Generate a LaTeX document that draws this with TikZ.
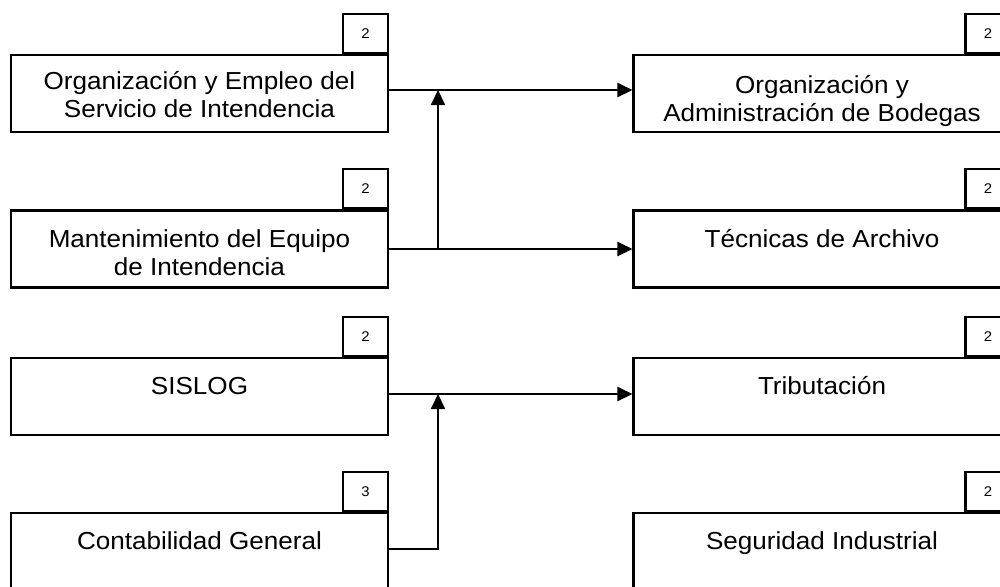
\documentclass[tikz,border=0pt]{standalone}
\usepackage{fontspec}
\setmainfont{Liberation Sans}[FakeStretch=1.06]
\usetikzlibrary{arrows.meta, positioning}
\tikzset{
  course/.style={draw, line width=1.2pt, minimum width=7.54cm, minimum height=1.54cm, inner sep=0pt},
  credits/.style={draw, line width=1.2pt, minimum width=0.9cm, minimum height=0.78cm, inner sep=0pt, font=\fontsize{8}{9}\selectfont},
  title/.style={anchor=base, align=center, inner sep=0pt, font=\fontsize{14}{16}\selectfont},
  link/.style={line width=1.2pt, -{Triangle[length=0.3cm, width=0.28cm]}}
}
\begin{document}
\begin{tikzpicture}[x=0.02cm, y=-0.02cm]
    \useasboundingbox (0,0) rectangle (1000,586);
    % left column
    \node [course] (org) at (199.5,93.5) {};
    \node [credits, above left=0pt and 0pt of org.north east] (orgN) {2};
    \node [title] (orgT) at ([yshift=-1.27cm]org.north) {Organización y Empleo del\\Servicio de Intendencia};
    \node [course] (man) at (199.5,249) {};
    \node [credits, above left=0pt and 0pt of man.north east] (manN) {2};
    \node [title] (manT) at ([yshift=-1.32cm]man.north) {Mantenimiento del Equipo\\de Intendencia};
    \node [course] (sis) at (199.5,396.5) {};
    \node [credits, above left=0pt and 0pt of sis.north east] (sisN) {2};
    \node [title] (sisT) at ([yshift=-0.76cm]sis.north) {SISLOG};
    \node [course] (con) at (199.5,551.5) {};
    \node [credits, above left=0pt and 0pt of con.north east] (conN) {3};
    \node [title] (conT) at ([yshift=-0.76cm]con.north) {Contabilidad General};
    % right column
    \node [course] (bod) at (822,93.5) {};
    \node [credits, above left=0pt and 0pt of bod.north east] (bodN) {2};
    \node [title] (bodT) at ([yshift=-1.36cm]bod.north) {Organización y\\Administración de Bodegas};
    \node [course] (arc) at (822,249) {};
    \node [credits, above left=0pt and 0pt of arc.north east] (arcN) {2};
    \node [title] (arcT) at ([yshift=-0.76cm]arc.north) {Técnicas de Archivo};
    \node [course] (tri) at (822,396.5) {};
    \node [credits, above left=0pt and 0pt of tri.north east] (triN) {2};
    \node [title] (triT) at ([yshift=-0.76cm]tri.north) {Tributación};
    \node [course] (seg) at (822,551.5) {};
    \node [credits, above left=0pt and 0pt of seg.north east] (segN) {2};
    \node [title] (segT) at ([yshift=-0.76cm]seg.north) {Seguridad Industrial};
    % connectors
    \coordinate (j1) at (438,0);
    \draw [link] ([yshift=0.07cm]org.east) -- ([yshift=0.07cm]bod.west);
    \draw [link] (man.east) -- (arc.west);
    \draw [link] (man.east -| j1) -- ([yshift=0.07cm]org.east -| j1);
    \draw [link] ([yshift=0.05cm]sis.east) -- ([yshift=0.05cm]tri.west);
    \draw [link] ([yshift=0.05cm]con.east) -| ([yshift=0.05cm]sis.east -| j1);
\end{tikzpicture}
\end{document}
